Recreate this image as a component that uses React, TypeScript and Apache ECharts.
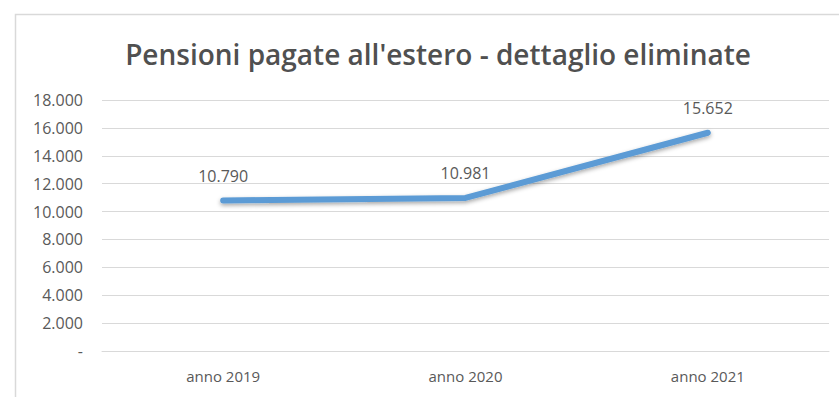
import React, { useEffect, useRef } from "react";
import * as echarts from "echarts";

const titleText = "Pensioni pagate all'estero - dettaglio eliminate";
const categories = ["anno 2019", "anno 2020", "anno 2021"];
const values = [10790, 10981, 15652];

const fmt = (v: number) => {
  if (v === 0) return "-";
  return String(Math.round(v)).replace(/\B(?=(\d{3})+(?!\d))/g, ".");
};

export default function App() {
  const ref = useRef<HTMLDivElement>(null);
  useEffect(() => {
    if (!ref.current) return;
    const chart = echarts.init(ref.current, undefined, { renderer: "svg" });
    chart.setOption({
      animation: false,
      backgroundColor: "#ffffff",
      textStyle: { fontFamily: "Open Sans" },
      title: {
        text: titleText,
        left: 433,
        textAlign: "center",
        top: 35,
        textStyle: { fontFamily: "Open Sans", fontSize: 28, fontWeight: 600, color: "#505050" },
      },
      graphic: [
        {
          type: "rect",
          shape: { x: 15.5, y: 14.5, width: 900, height: 500 },
          style: { fill: "none", stroke: "#d9d9d9", lineWidth: 1.5 },
          silent: true,
        },
      ],
      grid: { left: 102, right: 10, top: 100, bottom: 46 },
      xAxis: {
        type: "category",
        data: categories,
        boundaryGap: true,
        axisLine: { show: true, lineStyle: { color: "#d9d9d9" } },
        axisTick: { show: false },
        axisLabel: { color: "#595959", fontSize: 15, margin: 17, fontFamily: "Open Sans" },
      },
      yAxis: {
        type: "value",
        min: 0,
        max: 18000,
        interval: 2000,
        axisLine: { show: false },
        axisTick: { show: false },
        splitLine: { lineStyle: { color: "#d9d9d9", width: 1 } },
        axisLabel: { color: "#595959", fontSize: 16, margin: 19, formatter: fmt, fontFamily: "Open Sans" },
      },
      series: [
        {
          type: "line",
          data: values,
          symbol: "circle",
          showSymbol: true,
          symbolSize: 1,
          itemStyle: { color: "rgba(0,0,0,0)" },
          lineStyle: {
            color: "#5B9BD5",
            width: 6,
            cap: "round",
            shadowColor: "rgba(0,0,0,0.35)",
            shadowBlur: 4,
            shadowOffsetY: 2,
          },
          label: {
            show: true,
            position: "top",
            distance: 16,
            color: "#595959",
            fontSize: 16,
            fontFamily: "Open Sans",
            formatter: (p: any) => fmt(p.value),
          },
        },
      ],
    });
    return () => chart.dispose();
  }, []);
  return (
    <div
      ref={ref}
      style={{ position: "fixed", left: 0, top: 0, width: 839, height: 397 }}
    />
  );
}
